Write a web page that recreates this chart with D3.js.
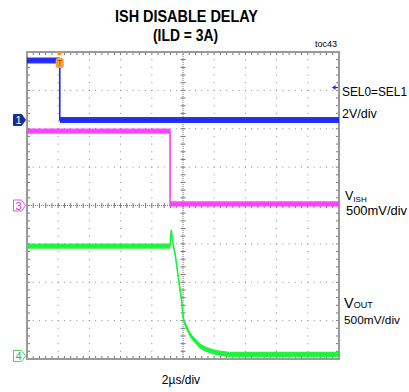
<!DOCTYPE html>
<html><head><meta charset="utf-8">
<script src="https://cdn.jsdelivr.net/npm/d3@7/dist/d3.min.js"></script>
<style>body{margin:0;background:#fff}svg{display:block}text{font-family:"Liberation Sans",Arial,sans-serif}</style>
</head><body>
<script>
// ---- data ----
const timeDomain = [0, 20];                 // µs (10 div x 2µs)
const ch1Time = [0, 2.1, 2.1, 20];          // SEL0=SEL1, V
const ch1Volt = [3.1, 3.1, 0, 0];
const ch3Time = [0, 9.17, 9.17, 20];        // VISH, V
const ch3Volt = [0.97, 0.97, 0.02, 0.02];
const ch4Time = [0, 9.17, 9.23, 9.38, 9.49, 9.70, 9.92, 10.02, 10.24, 10.45, 10.77, 11.09, 11.62, 12.16, 13.22, 14.5, 20];   // VOUT
const ch4Volt = [1.43, 1.43, 1.63, 1.44, 1.33, 1.02, 0.70, 0.50, 0.37, 0.28, 0.20, 0.13, 0.075, 0.043, 0.02, 0.02, 0.02];
const voltsPerDiv = {ch1: 2, ch3: 0.5, ch4: 0.5};
const groundDiv = {ch1: 2.23, ch3: 0, ch4: -3.92};
const titleLines = ["ISH DISABLE DELAY", "(ILD = 3A)"];
const timeLabel = "2µs/div";

const W = 409, H = 392;
const svg = d3.select("body").append("svg").attr("width", W).attr("height", H);
const L = 27, R = 339, T = 52, B = 359;
const x = d3.scaleLinear().domain(timeDomain).range([L, R]);
const yDiv = d3.scaleLinear().domain([-4, 4]).range([B, T]);
const dx = (R - L) / 10, dy = (B - T) / 8;

// ---- grid ----
const g = svg.append("g");
// dotted grid lines
for (let i = 1; i < 10; i++) {
  if (i === 5) continue;
  for (let k = 0; k <= 40; k++) {
    g.append("rect").attr("x", L + i * dx - 0.5).attr("y", T + k * dy / 5 - 0.5).attr("width", 1).attr("height", 1).attr("fill", "#8a8a8a");
  }
}
for (let j = 1; j < 8; j++) {
  if (j === 4) continue;
  for (let k = 0; k <= 50; k++) {
    g.append("rect").attr("x", L + k * dx / 5 - 0.5).attr("y", T + j * dy - 0.5).attr("width", 1).attr("height", 1).attr("fill", "#8a8a8a");
  }
}
// center crosshair
const cx = L + 5 * dx, cy = T + 4 * dy;
g.append("line").attr("x1", cx).attr("x2", cx).attr("y1", T).attr("y2", B).attr("stroke", "#777").attr("stroke-width", 1).attr("stroke-dasharray", "1,1");
g.append("line").attr("x1", L).attr("x2", R).attr("y1", cy).attr("y2", cy).attr("stroke", "#777").attr("stroke-width", 1).attr("stroke-dasharray", "1,1");
for (let k = 0; k <= 40; k++) {
  const yy = T + k * dy / 5;
  g.append("line").attr("x1", cx - 2.5).attr("x2", cx + 2.5).attr("y1", yy).attr("y2", yy).attr("stroke", "#777");
  g.append("line").attr("x1", L).attr("x2", L + 3).attr("y1", yy).attr("y2", yy).attr("stroke", "#777");
  g.append("line").attr("x1", R - 3).attr("x2", R).attr("y1", yy).attr("y2", yy).attr("stroke", "#777");
}
for (let k = 0; k <= 50; k++) {
  const xx = L + k * dx / 5;
  g.append("line").attr("x1", xx).attr("x2", xx).attr("y1", cy - 2.5).attr("y2", cy + 2.5).attr("stroke", "#777");
  g.append("line").attr("x1", xx).attr("x2", xx).attr("y1", T).attr("y2", T + 3).attr("stroke", "#777");
  g.append("line").attr("x1", xx).attr("x2", xx).attr("y1", B - 3).attr("y2", B).attr("stroke", "#777");
}
g.append("rect").attr("x", L).attr("y", T).attr("width", R - L).attr("height", B - T).attr("fill", "none").attr("stroke", "#9a9a9a").attr("stroke-width", 2);

// ---- traces ----
function drawTrace(times, volts, ch, color, half, curve) {
  const data = times.map((t, i) => ({t, v: volts[i]}));
  const yf = d => yDiv(groundDiv[ch] + d.v / voltsPerDiv[ch]);
  svg.append("path").datum(data)
    .attr("d", d3.area().x(d => x(d.t)).y0(d => yf(d) + half).y1(d => yf(d) - half).curve(curve))
    .attr("fill", color).attr("opacity", 0.95);
  svg.append("path").datum(data)
    .attr("d", d3.line().x(d => x(d.t)).y(yf).curve(curve))
    .attr("fill", "none").attr("stroke", color).attr("stroke-width", 1.6);
}
drawTrace(ch3Time, ch3Volt, "ch3", "#ff3cff", 2.6, d3.curveLinear);
drawTrace(ch4Time, ch4Volt, "ch4", "#1ef03c", 2.6, d3.curveMonotoneX);
drawTrace(ch1Time, ch1Volt, "ch1", "#1c28f0", 3.0, d3.curveLinear);

// ---- trigger marker ----
const tx = x(ch1Time[1]);
svg.append("path").attr("d", `M${tx - 3.5},${T - 0.5}L${tx + 3.5},${T - 0.5}L${tx},${T + 4}Z`).attr("fill", "#f5901e");
svg.append("rect").attr("x", tx - 4).attr("y", T + 6).attr("width", 8).attr("height", 10).attr("rx", 2.5).attr("fill", "#f7a040");
svg.append("path").attr("d", `M${tx - 2.5},${T + 8.5}H${tx + 2.5}M${tx},${T + 8.5}V${T + 14}`).attr("stroke", "#c06000").attr("stroke-width", 1).attr("fill", "none");
// trigger level arrow on right
svg.append("path").attr("d", `M${R - 7},${87.5}L${R - 3.5},${85}L${R - 3.5},${90}Z`).attr("fill", "#1c28f0");
svg.append("line").attr("x1", R - 4).attr("x2", R - 1).attr("y1", 87.5).attr("y2", 87.5).attr("stroke", "#1c28f0").attr("stroke-width", 1.2);

// ---- channel markers ----
function marker(ch, label, fill, stroke, textColor) {
  const yy = yDiv(groundDiv[ch]);
  const mg = svg.append("g").attr("transform", `translate(0,${yy})`);
  mg.append("path").attr("d", "M13.5,-5.5H21.5L25.5,0L21.5,5.5H13.5Z").attr("fill", fill).attr("stroke", stroke).attr("stroke-width", 1);
  mg.append("text").attr("x", 18.5).attr("y", 4.3).attr("text-anchor", "middle").attr("font-size", 11).attr("fill", textColor).text(label);
}
marker("ch1", "1", "#1a2a9a", "#1a2a9a", "#ffffff");
marker("ch3", "3", "#ffffff", "#dd55dd", "#cc33cc");
marker("ch4", "4", "#ffffff", "#55cc66", "#33bb44");

// ---- texts ----
svg.append("text").attr("x", 186.5).attr("y", 22).attr("text-anchor", "middle").attr("font-size", 16).attr("font-weight", "bold")
  .attr("textLength", 143).attr("lengthAdjust", "spacingAndGlyphs").text(titleLines[0]);
svg.append("text").attr("x", 185.5).attr("y", 40.5).attr("text-anchor", "middle").attr("font-size", 16).attr("font-weight", "bold")
  .attr("textLength", 65).attr("lengthAdjust", "spacingAndGlyphs").text(titleLines[1]);
svg.append("text").attr("x", 337).attr("y", 46.5).attr("text-anchor", "end").attr("font-size", 9).text("toc43");

svg.append("text").attr("x", 342).attr("y", 96).attr("font-size", 12.5).attr("textLength", 65).attr("lengthAdjust", "spacingAndGlyphs").text("SEL0=SEL1");
svg.append("text").attr("x", 342).attr("y", 117.5).attr("font-size", 12.5).text("2V/div");

const vish = svg.append("text").attr("x", 345).attr("y", 200).attr("font-size", 12.5);
vish.append("tspan").text("V");
vish.append("tspan").attr("font-size", 8).attr("dy", 2).text("ISH");
svg.append("text").attr("x", 346).attr("y", 215).attr("font-size", 12.5).attr("textLength", 61).attr("lengthAdjust", "spacingAndGlyphs").text("500mV/div");

const vout = svg.append("text").attr("x", 344).attr("y", 308).attr("font-size", 14.5);
vout.append("tspan").text("V");
vout.append("tspan").attr("font-size", 9).text("OUT");
svg.append("text").attr("x", 344).attr("y", 324).attr("font-size", 10).attr("font-family", "DejaVu Sans")
  .attr("textLength", 56).attr("lengthAdjust", "spacingAndGlyphs").text("500mV/div");

svg.append("text").attr("x", 181).attr("y", 384).attr("text-anchor", "middle").attr("font-size", 12).text(timeLabel);
</script>
</body></html>
